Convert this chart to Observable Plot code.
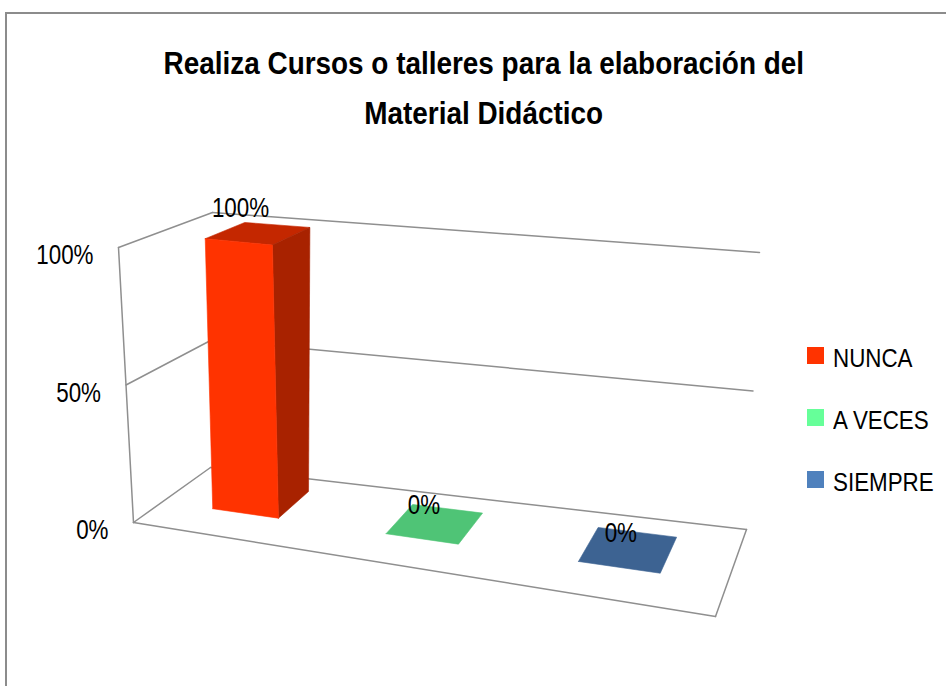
<!DOCTYPE html>
<html>
<head>
<meta charset="utf-8">
<script src="https://cdn.jsdelivr.net/npm/d3@7"></script>
<script src="https://cdn.jsdelivr.net/npm/@observablehq/plot@0.6"></script>
<style>
  html, body { margin: 0; padding: 0; background: #fff; overflow: hidden; }
  #wrap { position: relative; width: 946px; height: 686px; font-family: "Liberation Sans", Arial, sans-serif; color: #000; }
  #frame { position: absolute; left: 5px; top: 12px; width: 1000px; height: 700px; border: 2px solid #8c8c8c; box-sizing: border-box; }
  #chart { position: absolute; left: 0; top: 0; }
  #title { position: absolute; left: 11px; top: 39px; width: 946px; text-align: center; font-weight: bold; font-size: 31px; line-height: 50px; }
  #title span { display: inline-block; transform: scaleX(0.9); white-space: nowrap; }
  #legend { position: absolute; left: 807px; top: 346px; }
  .item { display: flex; align-items: center; height: 18px; margin-bottom: 44px; }
  .sw { width: 17px; height: 17px; margin-right: 9px; flex: none; }
  .lab { display: inline-block; position: relative; top: 3px; font-size: 26px; line-height: 18px; transform: scaleX(0.86); transform-origin: left center; white-space: nowrap; }
</style>
</head>
<body>
<div id="wrap">
  <div id="frame"></div>
  <div id="chart"></div>
  <div id="title"></div>
  <div id="legend"></div>
</div>
<script>
// ---- data ----
const titleLines = ["Realiza Cursos o talleres para la elaboración del", "Material Didáctico"];
const categories = ["NUNCA", "A VECES", "SIEMPRE"];
const values = [1.00, 0.00, 0.00];
const valueLabels = ["100%", "0%", "0%"];
const yTicks = [0, 0.5, 1];
const yTickLabels = ["0%", "50%", "100%"];

// ---- styles ----
const palette = ["#FF3300", "#66FF99", "#4F81BD"];
const gridColor = "#8f8f8f";
const textScaleX = 0.8;

// ---- 3D box layout (pixel corners of the plot box) ----
// floor corners, (u,w): A(0,0) front-left, B(1,0) front-right, C(0,1) back-left, D(1,1) back-right
const floorCorners = {A: [133, 522], B: [715, 616], C: [210, 467], D: [746, 529]};
// vertical vector (value 0 -> 1) at each floor corner
const upVectors = {A: [-15, -275], B: [-3, -300], C: [2, -255], D: [13, -277]};
const depthFront = 0.37, depthBack = 0.81;

function quadHomography(p0, p1, p2, p3) {
  const [x0, y0] = p0, [x1, y1] = p1, [x2, y2] = p2, [x3, y3] = p3;
  const dx1 = x1 - x2, dx2 = x3 - x2, dx3 = x0 - x1 + x2 - x3;
  const dy1 = y1 - y2, dy2 = y3 - y2, dy3 = y0 - y1 + y2 - y3;
  const den = dx1 * dy2 - dx2 * dy1;
  const g = (dx3 * dy2 - dx2 * dy3) / den;
  const h = (dx1 * dy3 - dx3 * dy1) / den;
  const a = x1 - x0 + g * x1, b = x3 - x0 + h * x3, c = x0;
  const d = y1 - y0 + g * y1, e = y3 - y0 + h * y3, f = y0;
  return (u, w) => { const q = g * u + h * w + 1; return [(a * u + b * w + c) / q, (d * u + e * w + f) / q]; };
}
function bilinear(u, w, k) {
  const ca = (1 - u) * (1 - w), cb = u * (1 - w), cc = (1 - u) * w, cd = u * w;
  return [0, 1].map(j => ca * k.A[j] + cb * k.B[j] + cc * k.C[j] + cd * k.D[j]);
}
const hom = quadHomography(floorCorners.A, floorCorners.B, floorCorners.D, floorCorners.C);
const valueScale = d3.scaleLinear().domain([0, 1]).range([0, 1]);
function project(u, w, value) {
  const h = hom(u, w), b = bilinear(u, w, floorCorners), up = bilinear(u, w, upVectors);
  const v = valueScale(value);
  return [(h[0] + b[0]) / 2 + v * up[0], (h[1] + b[1]) / 2 + v * up[1]];
}
const band = d3.scaleBand().domain(categories).range([0, 1]).paddingInner(0.61).paddingOuter(0.305);

function shade(c, k) { const r = d3.rgb(c); return d3.rgb(r.r * k, r.g * k, r.b * k).formatHex(); }

// ---- grid / wall lines ----
const gridSegments = [];
yTicks.forEach(t => {
  gridSegments.push([[0, 0, t], [0, 1, t]]);   // left wall
  gridSegments.push([[0, 1, t], [1, 1, t]]);   // back wall
});
gridSegments.push([[0, 0, 0], [0, 0, 1]]);     // front-left vertical
gridSegments.push([[0, 0, 0], [1, 0, 0]]);     // floor front edge
gridSegments.push([[1, 0, 0], [1, 1, 0]]);     // floor right edge
const gridPts = [];
gridSegments.forEach((seg, i) => seg.forEach(([u, w, v]) => {
  const [x, y] = project(u, w, v);
  gridPts.push({line: i, x, y});
}));

// ---- bar faces ----
const facePts = [];
categories.forEach((cat, i) => {
  const u0 = band(cat), u1 = u0 + band.bandwidth();
  const w0 = depthFront, w1 = depthBack, v = values[i];
  const faces = [];
  faces.push({name: "top", k: 0.77, pts: [[u0, w0, v], [u1, w0, v], [u1, w1, v], [u0, w1, v]]});
  if (v > 0) {
    faces.push({name: "side", k: 0.66, pts: [[u1, w0, 0], [u1, w1, 0], [u1, w1, v], [u1, w0, v]]});
    faces.push({name: "front", k: 1, pts: [[u0, w0, 0], [u1, w0, 0], [u1, w0, v], [u0, w0, v]]});
  }
  faces.forEach(f => {
    const color = shade(palette[i], f.k);
    [...f.pts, f.pts[0]].forEach(([u, w, vv]) => {
      const [x, y] = project(u, w, vv);
      facePts.push({id: cat + "-" + f.name, color, x, y});
    });
  });
});

// ---- labels ----
const tickData = yTicks.map((t, i) => {
  const [x, y] = project(0, 0, t);
  return {x, y, label: yTickLabels[i]};
});
const valueData = categories.map((cat, i) => {
  const uc = band(cat) + band.bandwidth() / 2;
  const [x, y] = project(uc, depthFront, values[i]);
  return {x, y, label: valueLabels[i]};
});

const chart = Plot.plot({
  width: 946,
  height: 686,
  margin: 0,
  style: {fontFamily: "'Liberation Sans', Arial, sans-serif", background: "transparent", overflow: "visible"},
  x: {type: "linear", domain: [0, 946], range: [0, 946], axis: null},
  y: {type: "linear", domain: [0, 686], range: [0, 686], axis: null},
  color: {type: "identity"},
  marks: [
    Plot.line(gridPts, {x: "x", y: "y", z: "line", stroke: gridColor, strokeWidth: 1.5}),
    Plot.line(facePts, {x: "x", y: "y", z: "id", fill: "color", stroke: "color", strokeWidth: 0.6, strokeLinejoin: "round"}),
    Plot.text(tickData, {x: "x", y: "y", text: "label", textAnchor: "end", dx: -25, dy: 8, fontSize: 28, fill: "#000"}),
    Plot.text(valueData, {x: "x", y: "y", text: "label", dx: 2, dy: -34, fontSize: 28, fill: "#000"})
  ]
});
document.getElementById("chart").appendChild(chart);

// horizontally condensed text (like the reference's narrow font)
chart.querySelectorAll("text").forEach(t => {
  let tr = t.getAttribute("transform") || "";
  const x = t.getAttribute("x");
  if (x && !/em/.test(x)) { tr += ` translate(${x},0)`; t.removeAttribute("x"); }
  t.setAttribute("transform", (tr + ` scale(${textScaleX},1)`).trim());
});

// title
const title = document.getElementById("title");
titleLines.forEach((line, i) => {
  if (i) title.appendChild(document.createElement("br"));
  const s = document.createElement("span");
  s.textContent = line;
  title.appendChild(s);
});

// legend
const legend = document.getElementById("legend");
categories.forEach((cat, i) => {
  const item = document.createElement("div");
  item.className = "item";
  const sw = document.createElement("div");
  sw.className = "sw";
  sw.style.background = palette[i];
  const lab = document.createElement("span");
  lab.className = "lab";
  lab.textContent = cat;
  item.append(sw, lab);
  legend.appendChild(item);
});
</script>
</body>
</html>
